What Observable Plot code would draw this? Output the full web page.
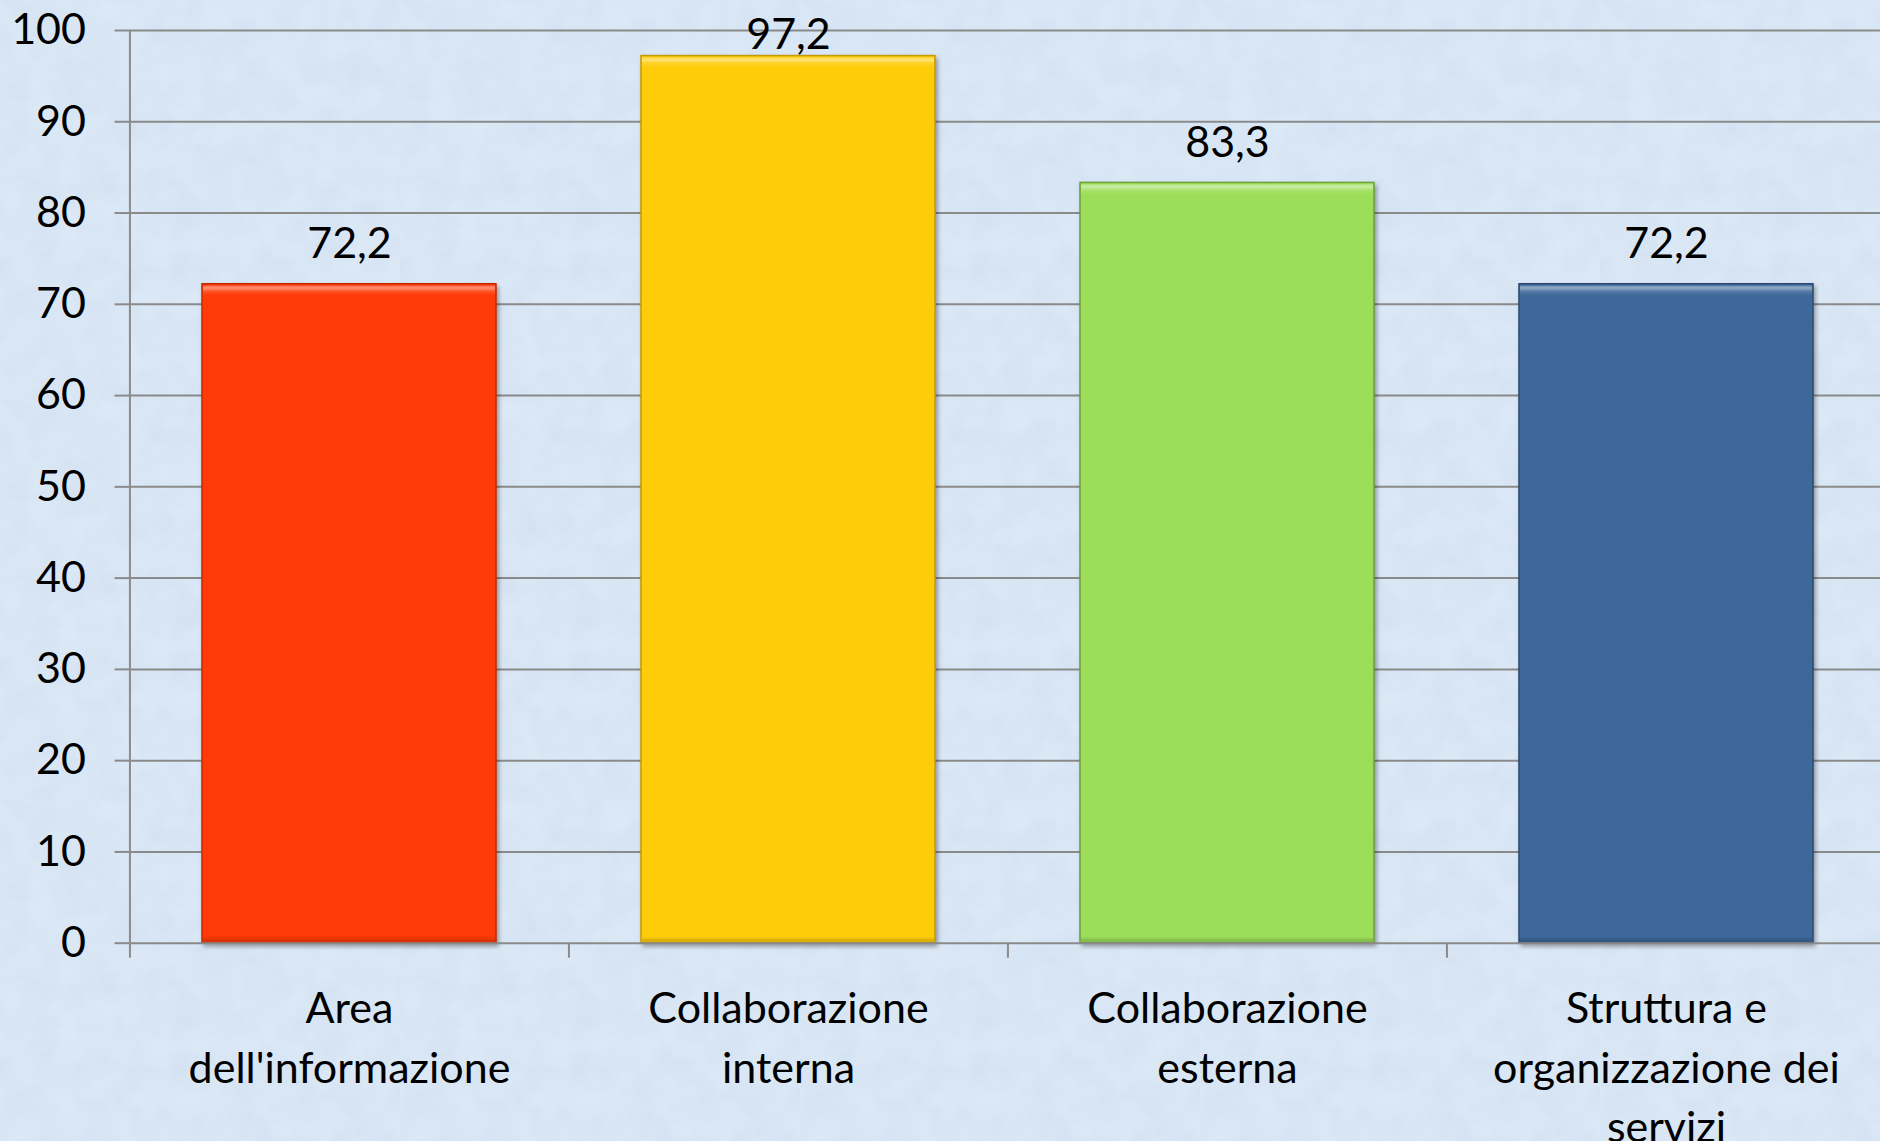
<!DOCTYPE html>
<html>
<head>
<meta charset="utf-8">
<script src="https://cdn.jsdelivr.net/npm/d3@7"></script>
<script src="https://cdn.jsdelivr.net/npm/@observablehq/plot@0.6"></script>
<style>
  html, body { margin: 0; padding: 0; overflow: hidden; width: 1880px; height: 1141px; }
  body {
    background-color: #dbe8f6;
    background-image: url("data:image/svg+xml;utf8,<svg xmlns='http://www.w3.org/2000/svg' width='400' height='400'><filter id='n'><feTurbulence type='fractalNoise' baseFrequency='0.035' numOctaves='4' seed='7'/><feColorMatrix type='matrix' values='0 0 0 0 0.62  0 0 0 0 0.72  0 0 0 0 0.85  0 0 0 0.9 -0.25'/></filter><rect width='400' height='400' filter='url(%23n)'/></svg>");
  }
  #chart { position: absolute; left: 0; top: 0; width: 1886px; }
  #chart svg { max-width: none !important; }
</style>
</head>
<body>
<div id="chart"></div>
<script>
// ---- data ----
const categories = ["Area dell'informazione", "Collaborazione interna", "Collaborazione esterna", "Struttura e organizzazione dei servizi"];
const tickLabels = ["Area\ndell'informazione", "Collaborazione\ninterna", "Collaborazione\nesterna", "Struttura e\norganizzazione dei\nservizi"];
const values = [72.2, 97.2, 83.3, 72.2];
const barColors = ["#ff3a06", "#ffcc0a", "#9cde5a", "#3d6899"];
const barStrokes = ["#c62a00", "#c79a00", "#6f9f38", "#2b4b72"];
const yTicks = [0, 10, 20, 30, 40, 50, 60, 70, 80, 90, 100];

const data = categories.map((c, i) => ({category: c, value: values[i], color: barColors[i], edge: barStrokes[i]}));
const labelOf = new Map(categories.map((c, i) => [c, tickLabels[i]]));
const fmt = v => d3.format(".1f")(v).replace(".", ",");

const width = 1886, height = 1141;
const marginLeft = 129.5, marginRight = 0, marginTop = 30, marginBottom = 198.3;
const step = (width - marginLeft - marginRight) / categories.length;
const grid = "#8a8a8a";
const fs = 43;

const chart = Plot.plot({
  width, height, marginLeft, marginRight, marginTop, marginBottom,
  style: {fontFamily: "Lato, 'Open Sans', sans-serif", fontSize: fs + "px", background: "transparent", color: "black", overflow: "visible", maxWidth: "none"},
  x: {domain: categories, paddingInner: 0.33, paddingOuter: 0.165, axis: null},
  y: {domain: [0, 100], axis: null},
  marks: [
    Plot.gridY(yTicks.filter(t => t > 0), {stroke: grid, strokeOpacity: 1, strokeWidth: 2}),
    Plot.ruleX([categories[0]], {dx: -step / 2, y1: 0, y2: 100, stroke: grid, strokeWidth: 2}),
    Plot.axisY({ticks: yTicks, tickSize: 15, tickPadding: 29, stroke: grid, strokeWidth: 2, fill: "black", fontSize: fs, label: null, tickFormat: d => String(d)}),
    Plot.axisX({tickSize: 15, text: null, dx: -step / 2, stroke: grid, strokeWidth: 2, label: null}),
    Plot.barY(data, {x: "category", y: "value", fill: d => d.color, stroke: d => d.edge, strokeWidth: 1.5}),
    Plot.barY(data, {x: "category", y1: "value", y2: "value", insetTop: 1.5, insetBottom: -12, insetLeft: 1, insetRight: 1, fill: "url(#hl)"}),
    Plot.barY(data, {x: "category", y1: 0, y2: 0, insetTop: -6, insetBottom: 1, insetLeft: 1, insetRight: 1, fill: "url(#sh)"}),
    Plot.ruleY([0], {stroke: grid, strokeWidth: 2}),
    Plot.axisX({tickSize: 0, tickPadding: 38, lineHeight: 1.38, fontSize: fs, fill: "black", label: null, tickFormat: d => labelOf.get(d)}),
    Plot.text(data, {x: "category", y: d => Math.min(d.value, 95.1), text: d => fmt(d.value), dy: -39.5, fontSize: fs, fill: "black"})
  ]
});

const svg = d3.select(chart);
const defs = svg.insert("defs", ":first-child");
const hl = defs.append("linearGradient").attr("id", "hl").attr("x1", 0).attr("y1", 0).attr("x2", 0).attr("y2", 1);
hl.append("stop").attr("offset", "0%").attr("stop-color", "white").attr("stop-opacity", 0.15);
hl.append("stop").attr("offset", "25%").attr("stop-color", "white").attr("stop-opacity", 0.45);
hl.append("stop").attr("offset", "60%").attr("stop-color", "white").attr("stop-opacity", 0.12);
hl.append("stop").attr("offset", "100%").attr("stop-color", "white").attr("stop-opacity", 0);
const sh = defs.append("linearGradient").attr("id", "sh").attr("x1", 0).attr("y1", 0).attr("x2", 0).attr("y2", 1);
sh.append("stop").attr("offset", "0%").attr("stop-color", "black").attr("stop-opacity", 0);
sh.append("stop").attr("offset", "100%").attr("stop-color", "black").attr("stop-opacity", 0.2);
svg.selectAll("g[aria-label='bar']").filter((d, i) => i === 0).style("filter", "drop-shadow(2px 3px 2px rgba(0,0,0,0.35))");

document.getElementById("chart").appendChild(chart);
</script>
</body>
</html>
